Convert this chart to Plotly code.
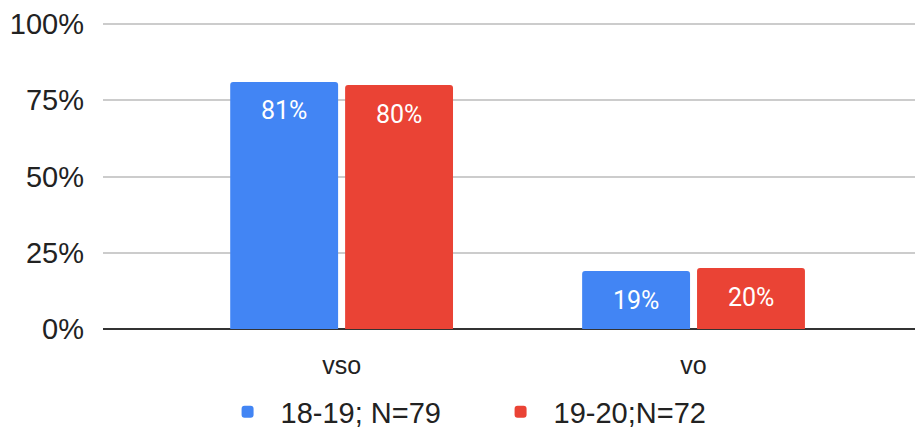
import plotly.graph_objects as go

categories = ["vso", "vo"]
series_names = ["18-19; N=79", "19-20;N=72"]
values_1819 = [0.81, 0.19]
values_1920 = [0.80, 0.20]
colors = ["#4285F4", "#EA4335"]

fig = go.Figure()

for name, vals, color in zip(series_names, [values_1819, values_1920], colors):
    fig.add_trace(go.Bar(
        x=categories,
        y=vals,
        name=name,
        marker=dict(color=color, cornerradius=3, line_width=0),
        hovertemplate="%{x}: %{y:.0%}<extra></extra>",
    ))

# data labels inside the bars, a bit below the top
for offset, vals in zip([-57.5, 57.5], [values_1819, values_1920]):
    for cat, v in zip(categories, vals):
        fig.add_annotation(
            x=cat, y=v, text=f"{v:.0%}",
            xshift=offset, yshift=-29,
            showarrow=False, yanchor="middle",
            font=dict(family="Roboto", size=25, color="white"),
        )

fig.update_layout(
    width=915,
    height=431,
    barmode="group",
    bargap=0.347,
    bargroupgap=0.061,
    margin=dict(l=95, r=0, t=11, b=110),
    plot_bgcolor="white",
    paper_bgcolor="white",
    font=dict(family="Liberation Sans, Arial", color="#222"),
    legend=dict(
        orientation="h",
        x=0.469, xanchor="center",
        y=-0.352, yanchor="bottom",
        font=dict(size=29, color="#222"),
        itemwidth=56,
        entrywidth=202,
    ),
)
fig.update_xaxes(
    range=[-0.678, 1.652],
    showgrid=False,
    showline=False,
    ticks="",
    tickfont=dict(size=25, color="#222"),
    ticklabelstandoff=19,
)
fig.update_yaxes(
    range=[0, 1.01],
    tickvals=[0, 0.25, 0.5, 0.75, 1.0],
    tickformat=".0%",
    showgrid=True,
    gridcolor="#cccccc",
    gridwidth=2,
    zeroline=True,
    zerolinecolor="#333333",
    zerolinewidth=2,
    tickfont=dict(size=29, color="#222"),
    ticklabelstandoff=18,
    ticklabeloverflow="allow",
)

fig.write_html("out.html")
